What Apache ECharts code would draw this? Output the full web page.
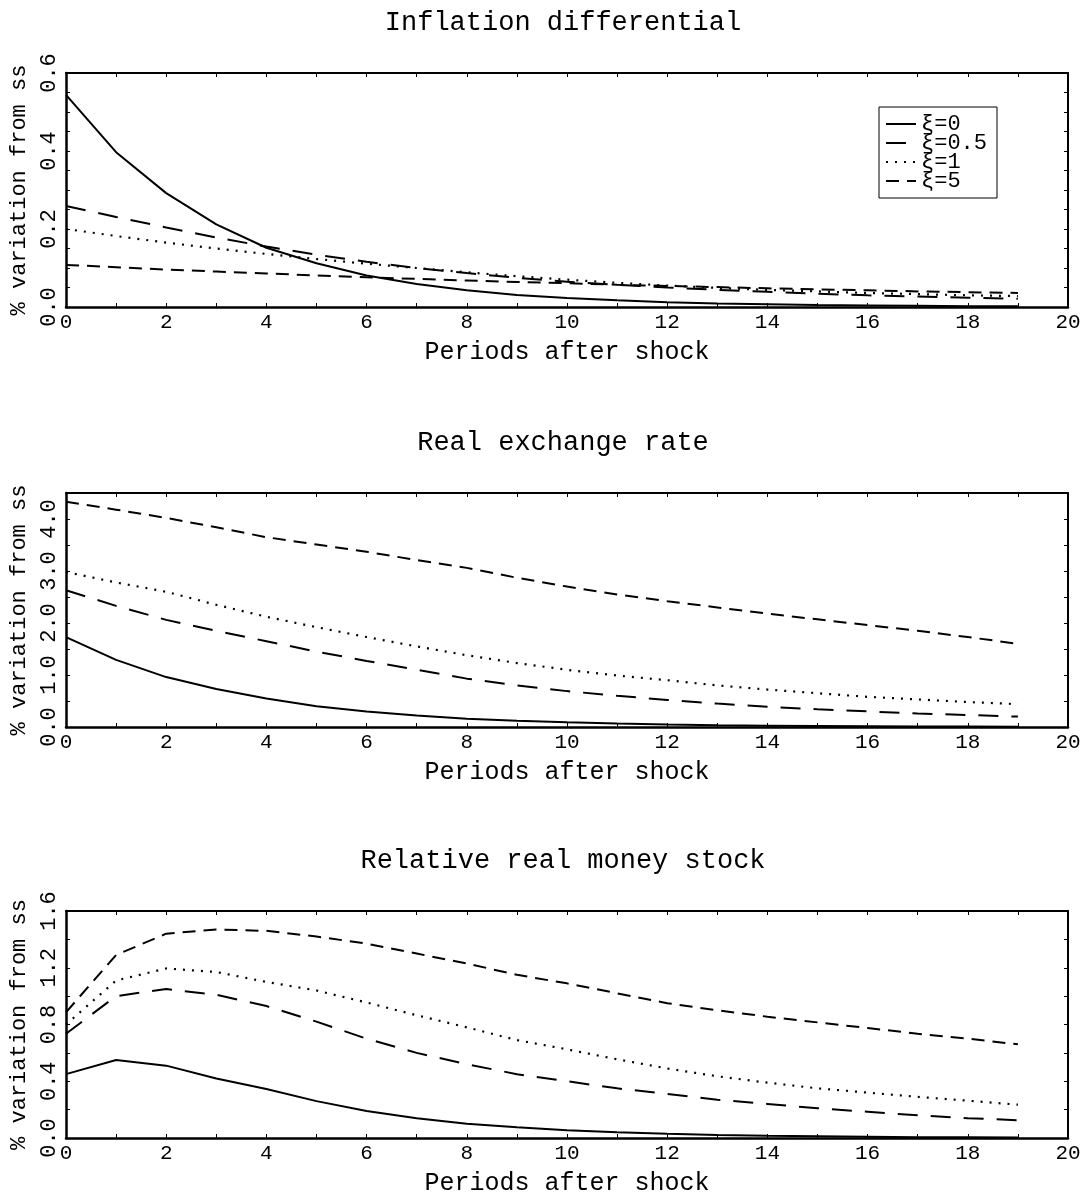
<!DOCTYPE html>
<html>
<head>
<meta charset="utf-8">
<script src="https://cdn.jsdelivr.net/npm/echarts@6/dist/echarts.min.js"></script>
<style>
html,body{margin:0;padding:0;background:#fff;}
#chart{width:1085px;height:1197px;}
</style>
</head>
<body>
<div id="chart"></div>
<script>
// ---- data ----
const periods = [0,1,2,3,4,5,6,7,8,9,10,11,12,13,14,15,16,17,18,19];
const seriesNames = ['ξ=0','ξ=0.5','ξ=1','ξ=5'];
const panelTitles = ['Inflation differential','Real exchange rate','Relative real money stock'];
const xAxisName = 'Periods after shock';
const yAxisName = '% variation from ss';

// Inflation differential
const infl_xi0   = [0.544,0.397,0.292,0.212,0.152,0.112,0.081,0.059,0.043,0.031,0.023,0.017,0.012,0.009,0.007,0.005,0.004,0.003,0.002,0.002];
const infl_xi05  = [0.259,0.231,0.204,0.178,0.155,0.134,0.116,0.100,0.087,0.075,0.065,0.057,0.050,0.044,0.039,0.034,0.030,0.027,0.024,0.021];
const infl_xi1   = [0.200,0.182,0.165,0.150,0.136,0.123,0.111,0.100,0.089,0.079,0.070,0.062,0.055,0.049,0.044,0.040,0.036,0.033,0.030,0.028];
const infl_xi5   = [0.108,0.102,0.096,0.091,0.086,0.081,0.076,0.072,0.068,0.064,0.061,0.057,0.054,0.051,0.048,0.045,0.043,0.040,0.038,0.036];

// Real exchange rate
const rer_xi0    = [1.73,1.29,0.96,0.73,0.55,0.40,0.30,0.22,0.16,0.12,0.09,0.065,0.048,0.035,0.026,0.019,0.014,0.010,0.008,0.006];
const rer_xi05   = [2.63,2.33,2.06,1.85,1.65,1.45,1.27,1.10,0.93,0.80,0.69,0.60,0.52,0.45,0.39,0.34,0.30,0.26,0.23,0.20];
const rer_xi1    = [2.98,2.78,2.60,2.35,2.12,1.92,1.73,1.55,1.38,1.23,1.10,0.99,0.90,0.80,0.72,0.65,0.58,0.53,0.48,0.44];
const rer_xi5    = [4.33,4.18,4.02,3.84,3.65,3.51,3.37,3.21,3.06,2.87,2.70,2.55,2.42,2.30,2.18,2.07,1.96,1.85,1.73,1.60];

// Relative real money stock
const money_xi0  = [0.45,0.55,0.51,0.42,0.345,0.26,0.19,0.14,0.10,0.075,0.055,0.040,0.030,0.022,0.016,0.012,0.009,0.006,0.005,0.004];
const money_xi05 = [0.735,1.00,1.05,1.01,0.93,0.82,0.70,0.60,0.52,0.45,0.40,0.35,0.31,0.27,0.24,0.21,0.185,0.16,0.14,0.125];
const money_xi1  = [0.80,1.11,1.195,1.17,1.10,1.04,0.955,0.865,0.78,0.69,0.625,0.555,0.49,0.435,0.39,0.35,0.32,0.29,0.263,0.235];
const money_xi5  = [0.886,1.29,1.44,1.47,1.46,1.42,1.37,1.30,1.23,1.15,1.09,1.02,0.95,0.90,0.855,0.815,0.775,0.735,0.70,0.66];

const yMax = [0.6, 4.5, 1.6];
const yInterval = [0.2, 1, 0.4];
const yMinorSplit = [4, 2, 2];
const xTicks = {min:0, max:20, interval:2};

// ---- chart ----
const FONT = 'Liberation Mono';
const panels = [
  [infl_xi0, infl_xi05, infl_xi1, infl_xi5],
  [rer_xi0, rer_xi05, rer_xi1, rer_xi5],
  [money_xi0, money_xi05, money_xi1, money_xi5]
];
const dashStyles = ['solid', [20,13], [2,7], [13,8]];
const gridTops = [73, 493, 911];
const gridHeights = [234, 234, 233];
const gridLeft = 58, gridWidth = 1010;

const grids = [], xAxes = [], yAxes = [], series = [], titles = [];
panels.forEach((p, i) => {
  grids.push({left: gridLeft, top: gridTops[i], width: gridWidth, height: gridHeights[i], containLabel: false});
  titles.push({
    text: panelTitles[i], left: gridLeft + gridWidth/2, textAlign: 'center', top: gridTops[i] - 64, padding: 0,
    textStyle: {fontFamily: FONT, fontSize: 27, fontWeight: 'normal', color: '#000'}
  });
  // bottom x
  xAxes.push({
    type: 'value', gridIndex: i, position: 'bottom', min: xTicks.min, max: xTicks.max, interval: xTicks.interval,
    name: xAxisName, nameLocation: 'middle', nameGap: 33,
    nameTextStyle: {fontFamily: FONT, fontSize: 25, color: '#000'},
    axisLine: {show: true, onZero: false, lineStyle: {color: '#000', width: 2.5}},
    axisTick: {show: true, inside: true, length: 4, lineStyle: {color: '#000', width: 1}},
    minorTick: {show: true, splitNumber: 2, length: 4, lineStyle: {color: '#000', width: 1}},
    axisLabel: {margin: 5, fontFamily: FONT, fontSize: 21, color: '#000', showMaxLabel: true, showMinLabel: true},
    splitLine: {show: false}
  });
  // top x (mirror)
  xAxes.push({
    type: 'value', gridIndex: i, position: 'top', min: xTicks.min, max: xTicks.max, interval: xTicks.interval,
    axisLine: {show: true, onZero: false, lineStyle: {color: '#000', width: 2}},
    axisTick: {show: true, inside: true, length: 4, lineStyle: {color: '#000', width: 1}},
    minorTick: {show: true, splitNumber: 2, length: 4, lineStyle: {color: '#000', width: 1}},
    axisLabel: {show: false}, splitLine: {show: false}
  });
  const iv = yInterval[i];
  const fmt = v => {
    const r = v / iv;
    return Math.abs(r - Math.round(r)) < 1e-6 ? Number(v).toFixed(1) : '';
  };
  yAxes.push({
    type: 'value', gridIndex: i, position: 'left', min: 0, max: yMax[i], interval: iv,
    name: yAxisName, nameLocation: 'middle', nameGap: 36, nameRotate: 90,
    nameTextStyle: {fontFamily: FONT, fontSize: 22, color: '#000'},
    axisLine: {show: true, onZero: false, lineStyle: {color: '#000', width: 2.5}},
    axisTick: {show: true, inside: true, length: 4, lineStyle: {color: '#000', width: 1}},
    minorTick: {show: true, splitNumber: yMinorSplit[i], length: 4, lineStyle: {color: '#000', width: 1}},
    axisLabel: {rotate: 90, margin: 6, fontFamily: FONT, fontSize: 22, color: '#000', formatter: fmt, showMaxLabel: true, showMinLabel: true},
    splitLine: {show: false}
  });
  yAxes.push({
    type: 'value', gridIndex: i, position: 'right', min: 0, max: yMax[i], interval: iv,
    axisLine: {show: true, onZero: false, lineStyle: {color: '#000', width: 2}},
    axisTick: {show: true, inside: true, length: 4, lineStyle: {color: '#000', width: 1}},
    minorTick: {show: true, splitNumber: yMinorSplit[i], length: 4, lineStyle: {color: '#000', width: 1}},
    axisLabel: {show: false}, splitLine: {show: false}
  });
  p.forEach((vals, k) => {
    series.push({
      name: seriesNames[k], type: 'line', xAxisIndex: i*2, yAxisIndex: i*2,
      data: periods.map((x, j) => [x, vals[j]]),
      symbol: 'none', showSymbol: false, animation: false, silent: true,
      lineStyle: {color: '#000', width: k === 2 ? 2.2 : 2, type: dashStyles[k]},
      itemStyle: {color: '#000'}
    });
  });
});

const chart = echarts.init(document.getElementById('chart'), null, {renderer: 'canvas'});
chart.setOption({
  backgroundColor: '#fff',
  animation: false,
  title: titles,
  grid: grids,
  xAxis: xAxes,
  yAxis: yAxes,
  legend: {
    data: seriesNames, orient: 'vertical', left: 879, top: 107,
    itemWidth: 30, itemHeight: 14, itemGap: -3,
    padding: [6, 10, 6, 6],
    backgroundColor: '#fff', borderColor: '#000', borderWidth: 1,
    itemStyle: {opacity: 0},
    textStyle: {fontFamily: FONT, fontSize: 22, color: '#000', lineHeight: 18},
    selectedMode: false
  },
  series: series
});
</script>
</body>
</html>
